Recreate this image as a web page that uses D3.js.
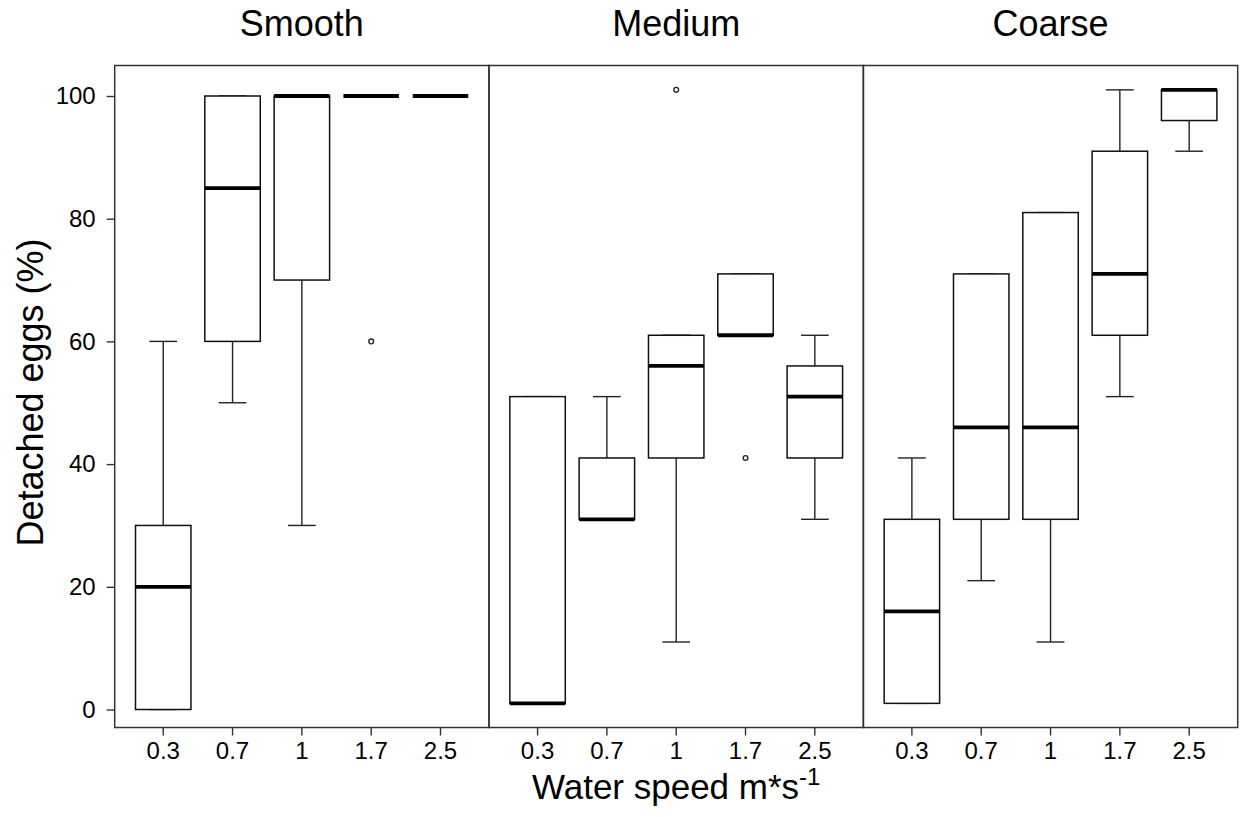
<!DOCTYPE html>
<html>
<head>
<meta charset="utf-8">
<script src="https://cdn.jsdelivr.net/npm/d3@7"></script>
<style>
  body { margin: 0; background: #fff; }
  svg { display: block; font-family: "Liberation Sans", Arial, sans-serif; }
  .axis text { font-size: 24px; fill: #000; }
  .axis line { stroke: #333; stroke-width: 1.4; }
</style>
</head>
<body>
<svg id="chart" width="1240" height="817"></svg>
<script>
// ===== Detached eggs boxplots, one panel per surface =====

var surfaces = ["Smooth", "Medium", "Coarse"];
var speeds = ["0.3", "0.7", "1", "1.7", "2.5"];
var yTicks = [0, 20, 40, 60, 80, 100];

// [lower whisker, Q1, median, Q3, upper whisker] for each speed
var smoothStats = [[0, 0, 20, 30, 60], [50, 60, 85, 100, 100], [30, 70, 100, 100, 100],
                   [100, 100, 100, 100, 100], [100, 100, 100, 100, 100]];
var mediumStats = [[1, 1, 1, 51, 51], [31, 31, 31, 41, 51], [11, 41, 56, 61, 61],
                   [61, 61, 61, 71, 71], [31, 41, 51, 56, 61]];
var coarseStats = [[1, 1, 16, 31, 41], [21, 31, 46, 71, 71], [11, 31, 46, 81, 81],
                   [51, 61, 71, 91, 101], [91, 96, 101, 101, 101]];

// outlying points for each speed
var smoothOutliers = [[], [], [], [60], []];
var mediumOutliers = [[], [], [101], [41], []];
var coarseOutliers = [[], [], [], [], []];

var panelStats = [smoothStats, mediumStats, coarseStats];
var panelOutliers = [smoothOutliers, mediumOutliers, coarseOutliers];

var frameLeft = 114.7, frameRight = 1237.7, frameTop = 65.5, frameBottom = 727.5;
var panelW = (frameRight - frameLeft) / surfaces.length;

var svg = d3.select("#chart");

var y = d3.scaleLinear().domain([0, 100]).range([709.5, 96]);

surfaces.forEach(function(name, p) {
  var x0 = frameLeft + p * panelW;
  var x = d3.scaleBand().domain(speeds).range([x0, x0 + panelW])
    .paddingInner(0.2).paddingOuter(0.3);
  var bw = x.bandwidth();

  var g = svg.append("g").attr("class", "panel");

  // Panel title
  svg.append("text")
    .attr("x", x0 + panelW / 2).attr("y", 36)
    .attr("text-anchor", "middle").attr("font-size", 36)
    .text(name);

  var boxes = g.selectAll(".box")
    .data(speeds.map(function(s, i) {
      return { speed: s, st: panelStats[p][i], out: panelOutliers[p][i] };
    }))
    .join("g").attr("class", "box");

  // whiskers
  boxes.append("line")
    .attr("x1", function(d) { return x(d.speed) + bw / 2; })
    .attr("x2", function(d) { return x(d.speed) + bw / 2; })
    .attr("y1", function(d) { return y(d.st[3]); })
    .attr("y2", function(d) { return y(d.st[4]); })
    .attr("stroke", "#222").attr("stroke-width", 1.4);
  boxes.append("line")
    .attr("x1", function(d) { return x(d.speed) + bw / 2; })
    .attr("x2", function(d) { return x(d.speed) + bw / 2; })
    .attr("y1", function(d) { return y(d.st[1]); })
    .attr("y2", function(d) { return y(d.st[0]); })
    .attr("stroke", "#222").attr("stroke-width", 1.4);

  // staples
  [0, 4].forEach(function(k) {
    boxes.append("line")
      .attr("x1", function(d) { return x(d.speed) + bw / 4; })
      .attr("x2", function(d) { return x(d.speed) + bw * 3 / 4; })
      .attr("y1", function(d) { return y(d.st[k]); })
      .attr("y2", function(d) { return y(d.st[k]); })
      .attr("stroke", "#222").attr("stroke-width", 1.4);
  });

  // box
  boxes.append("rect")
    .attr("x", function(d) { return x(d.speed); })
    .attr("width", bw)
    .attr("y", function(d) { return y(d.st[3]); })
    .attr("height", function(d) { return y(d.st[1]) - y(d.st[3]); })
    .attr("fill", "#fff").attr("stroke", "#111").attr("stroke-width", 1.5);

  // median
  boxes.append("line")
    .attr("x1", function(d) { return x(d.speed); })
    .attr("x2", function(d) { return x(d.speed) + bw; })
    .attr("y1", function(d) { return y(d.st[2]); })
    .attr("y2", function(d) { return y(d.st[2]); })
    .attr("stroke", "#000").attr("stroke-width", 3.8);

  // outliers
  boxes.selectAll("circle")
    .data(function(d) { return d.out.map(function(v) { return { speed: d.speed, v: v }; }); })
    .join("circle")
    .attr("cx", function(d) { return x(d.speed) + bw / 2; })
    .attr("cy", function(d) { return y(d.v); })
    .attr("r", 2.4)
    .attr("fill", "none").attr("stroke", "#222").attr("stroke-width", 1.3);

  // x axis for this panel
  var xAxis = svg.append("g").attr("class", "axis")
    .attr("transform", "translate(0," + frameBottom + ")")
    .call(d3.axisBottom(x).tickSize(8).tickSizeOuter(0).tickPadding(6));
  xAxis.select(".domain").remove();
  xAxis.selectAll("text").attr("font-family", null).attr("font-size", null);

  // panel frame
  svg.append("rect")
    .attr("x", x0).attr("y", frameTop)
    .attr("width", panelW).attr("height", frameBottom - frameTop)
    .attr("fill", "none").attr("stroke", "#333").attr("stroke-width", 1.5);
});

// y axis
var yAxis = svg.append("g").attr("class", "axis")
  .attr("transform", "translate(" + frameLeft + ",0)")
  .call(d3.axisLeft(y).tickValues(yTicks).tickSize(8).tickSizeOuter(0).tickPadding(11));
yAxis.select(".domain").remove();
yAxis.selectAll("text").attr("font-family", null).attr("font-size", null);

// axis titles
svg.append("text")
  .attr("transform", "translate(43," + ((frameTop + frameBottom) / 2 - 4) + ") rotate(-90)")
  .attr("text-anchor", "middle").attr("font-size", 36)
  .text("Detached eggs (%)");

var xt = svg.append("text")
  .attr("x", (frameLeft + frameRight) / 2).attr("y", 799)
  .attr("text-anchor", "middle").attr("font-size", 35)
  .text("Water speed m*s");
xt.append("tspan").attr("font-size", 24).attr("dy", -14).text("-1");
</script>
</body>
</html>
